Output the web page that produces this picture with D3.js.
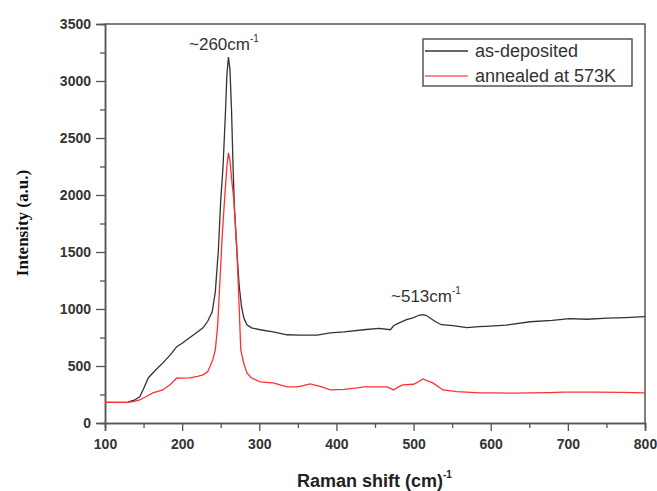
<!DOCTYPE html>
<html><head><meta charset="utf-8">
<script src="https://cdn.jsdelivr.net/npm/d3@7"></script>
<style>body{margin:0;background:#fff}svg{display:block}</style>
</head><body>
<svg id="c" width="657" height="491"></svg>
<script>
// as-deposited (black)
const depX = [130,138,145,150,156,165,175,185,193,200,206,215,227,233,239,243,247,250,253,256,258,260,262,264,266,268,271,274,277,280,284,290,301,318,336,353,375,392,410,435,455,470,474,482,491,500,507,511,516,521,528,536,551,569,585,599,620,651,680,702,725,751,775,800];
const depY = [185,200,229,300,395,460,527,600,670,700,730,775,835,890,976,1150,1520,1950,2250,2700,3050,3210,3100,2750,2250,1850,1500,1200,1020,920,862,835,818,800,774,770,770,790,800,818,830,818,853,880,906,925,945,950,945,923,890,862,855,836,845,850,858,888,900,915,910,920,925,933];
// annealed at 573K (red)
const annX = [100,115,130,138,145,153,162,175,185,193,200,210,220,227,233,236,240,243,246,249,252,255,258,260,262,264,267,269,271,274,276,280,284,290,301,318,336,349,358,366,380,392,410,427,435,450,466,474,480,486,500,506,512,518,525,538,556,586,606,630,651,675,695,737,770,800];
const annY = [182,182,182,190,202,230,264,290,340,395,393,395,410,422,450,493,560,642,850,1250,1650,1960,2250,2370,2300,2150,1960,1750,1520,1000,642,520,440,395,360,352,317,317,330,343,320,290,295,308,317,317,317,290,315,334,340,360,387,370,352,290,275,264,264,262,264,266,270,270,268,264];
const xTicks = [100,200,300,400,500,600,700,800];
const yTicks = [0,500,1000,1500,2000,2500,3000,3500];
const seriesNames = ["as-deposited","annealed at 573K"];

const svg = d3.select("#c");
const L=105,R=645,T=24,B=423;
const x = d3.scaleLinear().domain([100,800]).range([L,R]);
const y = d3.scaleLinear().domain([0,3500]).range([B,T]);
const font = "'Liberation Sans', Arial, sans-serif";
const axCol = "#555";

// frame
svg.append("path").attr("d",`M${L},${T}H${R}V${B}`).attr("fill","none").attr("stroke",axCol).attr("stroke-width",1.5);

// x axis
const gx = svg.append("g").attr("transform",`translate(0,${B})`)
  .call(d3.axisBottom(x).tickValues(xTicks).tickSize(8).tickPadding(8).tickFormat(d3.format("d")));
gx.append("g").call(d3.axisBottom(x).tickValues(d3.range(150,800,100)).tickSize(5).tickFormat(""));
// y axis
const gy = svg.append("g").attr("transform",`translate(${L},0)`)
  .call(d3.axisLeft(y).tickValues(yTicks).tickSize(9).tickPadding(5).tickFormat(d3.format("d")));
gy.append("g").call(d3.axisLeft(y).tickValues(d3.range(250,3500,500)).tickSize(5).tickFormat(""));
[gx,gy].forEach(g=>{
  g.selectAll(".domain").attr("stroke",axCol).attr("stroke-width",1.5);
  g.selectAll(".tick line").attr("stroke",axCol).attr("stroke-width",1.3);
  g.selectAll("text").attr("font-family",font).attr("font-weight","bold").attr("font-size",14).attr("fill","#333");
});

// lines
const line = d3.line().x(d=>x(d[0])).y(d=>y(d[1]));
svg.append("path").datum(depX.map((v,i)=>[v,depY[i]])).attr("d",line)
  .attr("fill","none").attr("stroke","#333").attr("stroke-width",1.3);
svg.append("path").datum(annX.map((v,i)=>[v,annY[i]])).attr("d",line)
  .attr("fill","none").attr("stroke","#ff3030").attr("stroke-width",1.3);

// annotations
function ann(tx,ty,txt){
  const t = svg.append("text").attr("x",tx).attr("y",ty).attr("font-family",font).attr("font-size",17).attr("fill","#333");
  t.append("tspan").text(txt);
  t.append("tspan").attr("dy",-8).attr("font-size",10).text("-1");
}
ann(189,50,"~260cm");
ann(391,302,"~513cm");

// legend
svg.append("rect").attr("x",423).attr("y",39).attr("width",209).attr("height",47)
  .attr("fill","#fff").attr("stroke",axCol).attr("stroke-width",1.5);
const legCols = ["#333","#ff6060"];
seriesNames.forEach((n,i)=>{
  const ly = 51 + i*25;
  svg.append("line").attr("x1",425).attr("x2",468).attr("y1",ly).attr("y2",ly).attr("stroke",legCols[i]).attr("stroke-width",1.5);
  svg.append("text").attr("x",475).attr("y",ly+6).attr("font-family",font).attr("font-size",18).attr("fill","#333").text(n);
});

// axis titles
svg.append("text").attr("transform","translate(28,223) rotate(-90)").attr("text-anchor","middle")
  .attr("font-family","'Liberation Serif','Times New Roman',serif").attr("font-weight","bold").attr("font-size",17).attr("fill","#111")
  .text("Intensity (a.u.)");
const xt = svg.append("text").attr("x",297).attr("y",487).attr("font-family",font).attr("font-weight","bold").attr("font-size",18).attr("fill","#222");
xt.append("tspan").text("Raman shift (cm)");
xt.append("tspan").attr("dy",-9).attr("font-size",10).text("-1");
</script>
</body></html>
